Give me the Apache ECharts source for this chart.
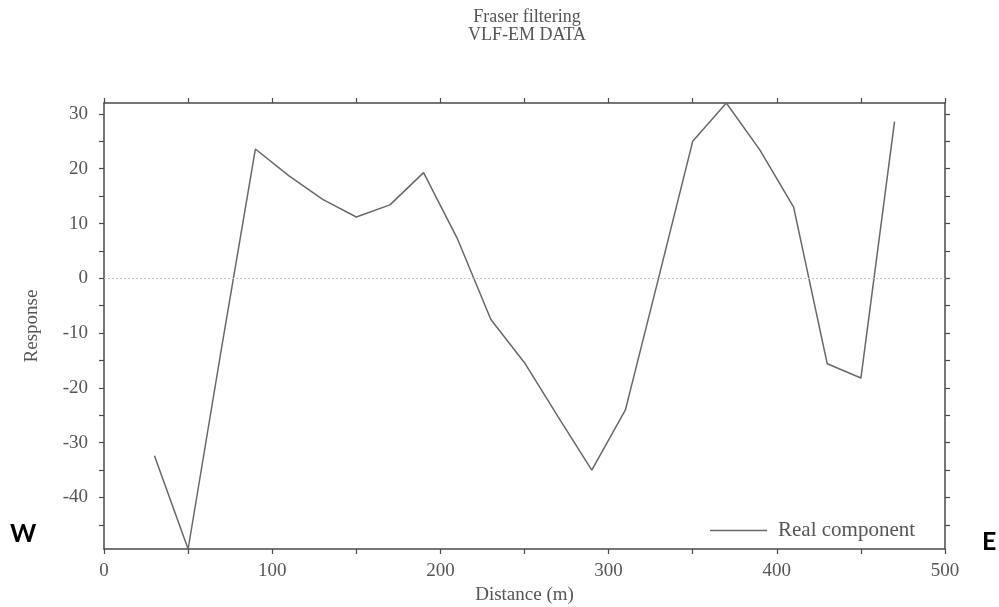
<!DOCTYPE html>
<html>
<head>
<meta charset="utf-8">
<script src="https://cdn.jsdelivr.net/npm/echarts@6/dist/echarts.min.js"></script>
<style>
  html, body { margin: 0; padding: 0; background: #fff; }
  #chart { width: 999px; height: 607px; }
</style>
</head>
<body>
<div id="chart"></div>
<script>
// Station distances along the profile (m)
const distances = [30, 50, 70, 90, 110, 130, 150, 170, 190, 210, 230, 250,
                   270, 290, 310, 330, 350, 370, 390, 410, 430, 450, 470];
// Fraser-filtered real component
const realComponent = [-32.4, -49.4, -12.5, 23.6, 18.7, 14.4, 11.2, 13.4, 19.3, 7.3, -7.5, -15.4,
                       -25.3, -35.0, -24.0, 0.4, 25.0, 32.0, 23.4, 13.0, -15.6, -18.2, 28.6];
// Axis ticks and labels
const xTicks = [0, 50, 100, 150, 200, 250, 300, 350, 400, 450, 500];
const xLabels = [0, 100, 200, 300, 400, 500];
const yTicks = [-45, -40, -35, -30, -25, -20, -15, -10, -5, 0, 5, 10, 15, 20, 25, 30];
const yLabels = [-40, -30, -20, -10, 0, 10, 20, 30];
const yMin = -49.4, yMax = 32;

const serif = '"Liberation Serif", "Times New Roman", serif';
const axisColor = '#4a4a4a';
const textColor = '#555';

const axisLine = { show: true, onZero: false, lineStyle: { color: axisColor, width: 1.5 } };
const tick = (vals) => ({ show: true, inside: false, length: 5, customValues: vals,
                          lineStyle: { color: axisColor, width: 1.2 } });

const chart = echarts.init(document.getElementById('chart'));
chart.setOption({
  animation: false,
  backgroundColor: '#fff',
  title: {
    text: 'Fraser filtering\nVLF-EM DATA',
    left: 522, top: 3, textAlign: 'center',
    textStyle: { fontFamily: serif, fontSize: 18, fontWeight: 'normal', color: '#555', lineHeight: 18 }
  },
  grid: { left: 104, right: 54, top: 103, bottom: 58, outerBoundsMode: 'none', containLabel: false },
  legend: {
    data: [{ name: 'Real component', icon: 'rect' }],
    left: 705, top: 515,
    itemWidth: 57, itemHeight: 1.5, itemGap: 10,
    textStyle: { fontFamily: serif, fontSize: 21, color: '#555', padding: [0, 0, 0, 6] }
  },
  xAxis: [
    {
      type: 'value', position: 'bottom', min: 0, max: 500,
      name: 'Distance (m)', nameLocation: 'middle', nameGap: 35,
      nameTextStyle: { fontFamily: serif, fontSize: 19, color: textColor },
      axisLine: axisLine, axisTick: tick(xTicks),
      axisLabel: { customValues: xLabels, margin: 13, fontFamily: serif, fontSize: 19, color: textColor },
      splitLine: { show: false }
    },
    {
      type: 'value', position: 'top', min: 0, max: 500,
      axisLine: axisLine, axisTick: tick(xTicks),
      axisLabel: { show: false }, splitLine: { show: false }
    }
  ],
  yAxis: [
    {
      type: 'value', position: 'left', min: yMin, max: yMax,
      name: 'Response', nameLocation: 'middle', nameGap: 62, nameRotate: 90,
      nameTextStyle: { fontFamily: serif, fontSize: 19, color: textColor },
      axisLine: axisLine, axisTick: tick(yTicks),
      axisLabel: { customValues: yLabels, margin: 16, fontFamily: serif, fontSize: 19, color: textColor },
      splitLine: { show: false }
    },
    {
      type: 'value', position: 'right', min: yMin, max: yMax,
      axisLine: axisLine, axisTick: tick(yTicks),
      axisLabel: { show: false }, splitLine: { show: false }
    }
  ],
  series: [{
    name: 'Real component',
    type: 'line',
    data: distances.map((d, i) => [d, realComponent[i]]),
    symbol: 'none',
    lineStyle: { color: '#686868', width: 1.5 },
    itemStyle: { color: '#686868' },
    markLine: {
      silent: true, symbol: 'none', label: { show: false },
      lineStyle: { color: '#c4c4c4', type: [2, 2], width: 1 },
      data: [{ yAxis: 0 }]
    }
  }],
  graphic: [
    { type: 'text', left: 10, top: 521,
      style: { text: 'W', font: 'bold 25px Lato, "Open Sans", sans-serif', fill: '#000' } },
    { type: 'text', left: 982, top: 529,
      style: { text: 'E', font: 'bold 25px Lato, "Open Sans", sans-serif', fill: '#000' } }
  ]
});
</script>
</body>
</html>
